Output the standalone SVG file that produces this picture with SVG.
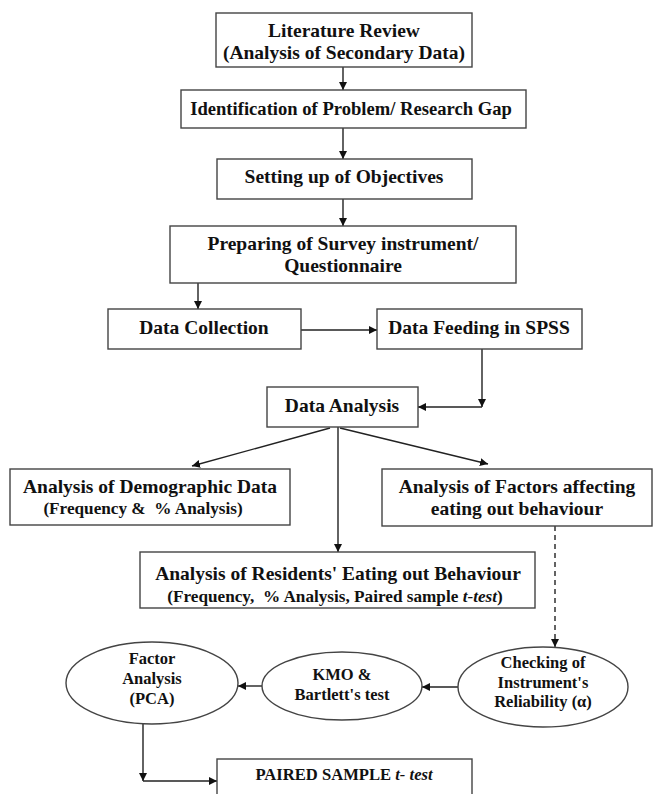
<svg xmlns="http://www.w3.org/2000/svg" width="654" height="794" viewBox="0 0 654 794">
<style>
.box{fill:#fff;stroke:#444;stroke-width:1.4}
.t{font-family:'Liberation Serif','Times New Roman','DejaVu Serif',serif;font-weight:700;fill:#111;text-anchor:middle}
.l{font-size:19.5px}
.m{font-size:18.6px}
.s{font-size:17.2px}
.p{font-size:16.6px}
.e{font-size:16.5px}
.c{fill:none;stroke:#222;stroke-width:1.4}
.d{stroke-dasharray:5,4}
</style>
<defs>
<marker id="ah" viewBox="0 0 10 10" refX="10" refY="5" markerWidth="8" markerHeight="8" markerUnits="userSpaceOnUse" orient="auto">
<path d="M0,0 L10,5 L0,10 z" fill="#111"/>
</marker>
</defs>
<g id="connectors">
<line class="c" x1="343" y1="67" x2="343" y2="90" marker-end="url(#ah)"/>
<line class="c" x1="343" y1="128" x2="343" y2="159" marker-end="url(#ah)"/>
<line class="c" x1="343" y1="199" x2="343" y2="226" marker-end="url(#ah)"/>
<line class="c" x1="198" y1="283" x2="198" y2="309" marker-end="url(#ah)"/>
<line class="c" x1="301" y1="330" x2="377" y2="330" marker-end="url(#ah)"/>
<line class="c" x1="482" y1="349" x2="482" y2="407" marker-end="url(#ah)"/>
<line class="c" x1="482" y1="407" x2="418" y2="407" marker-end="url(#ah)"/>
<line class="c" x1="330" y1="428" x2="192" y2="466" marker-end="url(#ah)"/>
<line class="c" x1="340" y1="428" x2="488" y2="464" marker-end="url(#ah)"/>
<line class="c" x1="338" y1="427" x2="338" y2="552" marker-end="url(#ah)"/>
<line class="c d" x1="555" y1="526" x2="555" y2="647" marker-end="url(#ah)"/>
<line class="c" x1="458" y1="687" x2="422" y2="687" marker-end="url(#ah)"/>
<line class="c" x1="262" y1="686" x2="238" y2="686" marker-end="url(#ah)"/>
<line class="c" x1="143" y1="722" x2="143" y2="781" marker-end="url(#ah)"/>
<line class="c" x1="143" y1="781" x2="217" y2="781" marker-end="url(#ah)"/>
</g>
<g id="literature">
<rect class="box" x="216" y="13" width="256" height="54"/>
<text class="t l" x="344" y="37">Literature Review</text>
<text class="t l" x="344" y="59">(Analysis of Secondary Data)</text>
</g>
<g id="identification">
<rect class="box" x="181" y="90" width="345" height="38"/>
<text class="t m" x="351" y="115">Identification of Problem/ Research Gap</text>
</g>
<g id="objectives">
<rect class="box" x="217" y="159" width="255" height="40"/>
<text class="t l" x="344" y="183">Setting up of Objectives</text>
</g>
<g id="survey">
<rect class="box" x="170" y="226" width="346" height="57"/>
<text class="t l" x="343" y="250">Preparing of Survey instrument/</text>
<text class="t l" x="343" y="272">Questionnaire</text>
</g>
<g id="collection">
<rect class="box" x="108" y="309" width="193" height="40"/>
<text class="t l" x="204" y="334">Data Collection</text>
</g>
<g id="feeding">
<rect class="box" x="377" y="309" width="205" height="40"/>
<text class="t l" x="479" y="334">Data Feeding in SPSS</text>
</g>
<g id="analysis">
<rect class="box" x="267" y="387" width="151" height="40"/>
<text class="t l" x="342" y="412">Data Analysis</text>
</g>
<g id="demographic">
<rect class="box" x="10" y="469" width="280" height="56"/>
<text class="t l" x="150" y="493">Analysis of Demographic Data</text>
<text class="t s" x="143" y="514" xml:space="preserve">(Frequency &amp;  % Analysis)</text>
</g>
<g id="factors">
<rect class="box" x="382" y="469" width="270" height="57"/>
<text class="t l" x="517" y="493">Analysis of Factors affecting</text>
<text class="t l" x="517" y="515">eating out behaviour</text>
</g>
<g id="residents">
<rect class="box" x="140" y="552" width="395" height="56"/>
<text class="t l" x="338" y="580">Analysis of Residents' Eating out Behaviour</text>
<text class="t s" x="335" y="602" xml:space="preserve">(Frequency,  % Analysis, Paired sample <tspan font-style="italic">t-test</tspan>)</text>
</g>
<g id="reliability">
<ellipse class="box" cx="543" cy="687" rx="85" ry="40"/>
<text class="t e" x="543" y="668">Checking of</text>
<text class="t e" x="543" y="688">Instrument's</text>
<text class="t e" x="543" y="707">Reliability (α)</text>
</g>
<g id="kmo">
<ellipse class="box" cx="342" cy="686" rx="80" ry="34"/>
<text class="t e" x="342" y="680">KMO &amp;</text>
<text class="t e" x="342" y="700">Bartlett's test</text>
</g>
<g id="factor">
<ellipse class="box" cx="152" cy="683" rx="86" ry="41"/>
<text class="t e" x="152" y="664">Factor</text>
<text class="t e" x="152" y="684">Analysis</text>
<text class="t e" x="152" y="704">(PCA)</text>
</g>
<g id="paired">
<rect class="box" x="217" y="759" width="255" height="45"/>
<text class="t p" x="344" y="780">PAIRED SAMPLE <tspan font-style="italic">t- test</tspan></text>
</g>
</svg>
